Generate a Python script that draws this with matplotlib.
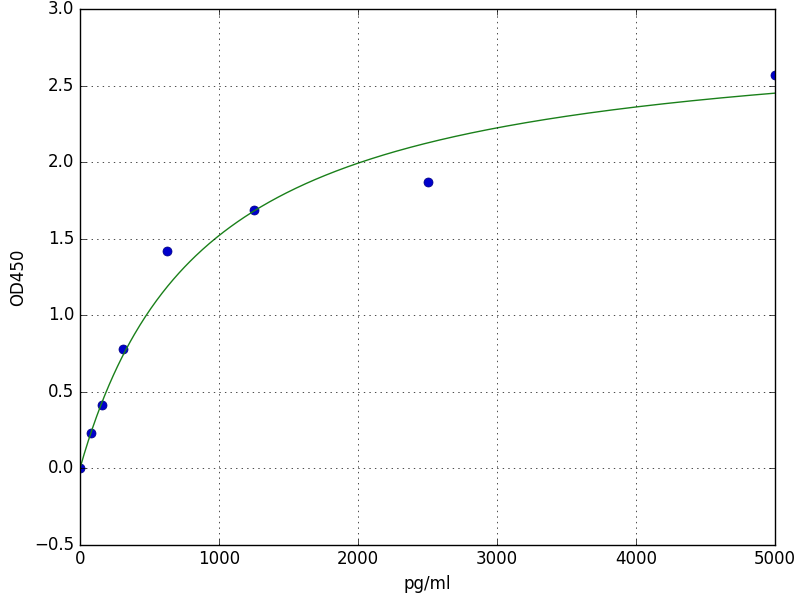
import matplotlib
matplotlib.use("Agg")
import matplotlib.pyplot as plt
import numpy as np

plt.style.use("classic")

# Measured standards
conc = [0, 78, 156, 312, 625, 1250, 2500, 5000]
od = [0.0, 0.23, 0.41, 0.78, 1.42, 1.69, 1.87, 2.57]

# Fitted curve parameters (hyperbolic fit)
fit_max = 2.893
fit_half = 903.0
fit_x = np.linspace(0, 5000, 500)
fit_y = fit_max * fit_x / (fit_half + fit_x)

xticks = [0, 1000, 2000, 3000, 4000, 5000]
yticks = [-0.5, 0.0, 0.5, 1.0, 1.5, 2.0, 2.5, 3.0]

fig = plt.figure(figsize=(8, 6), dpi=100)
fig.patch.set_facecolor("white")
ax = fig.add_axes([0.1, 0.092, 0.869, 0.893])
ax.plot(conc, od, "o", color="#0000cc", markeredgecolor="#000080", markersize=6.5)
ax.plot(fit_x, fit_y, "-", color="#1a801a")
ax.set_xlim(0, 5000)
ax.set_ylim(-0.5, 3.0)
ax.set_xticks(xticks)
ax.set_yticks(yticks)
ax.grid(True)
ax.set_xlabel("pg/ml")
ax.set_ylabel("OD450")
fig.savefig("out.png", dpi=100, facecolor="white")
